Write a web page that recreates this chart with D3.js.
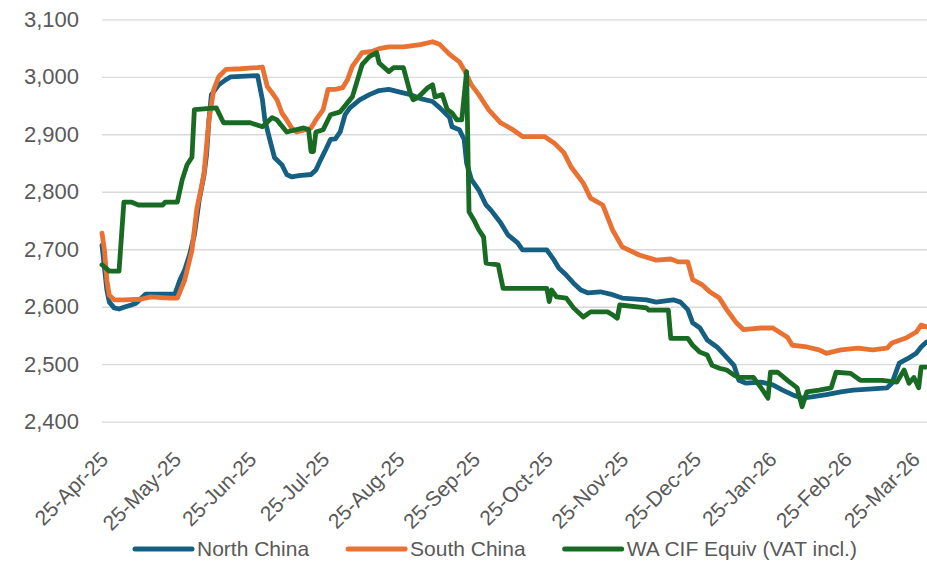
<!DOCTYPE html>
<html>
<head>
<meta charset="utf-8">
<script src="https://cdn.jsdelivr.net/npm/d3@7/dist/d3.min.js"></script>
<style>
  html, body { margin: 0; padding: 0; background: #ffffff; }
  svg { display: block; }
  text { font-family: "Liberation Sans", Arial, sans-serif; fill: #595959; }
</style>
</head>
<body>
<svg id="chart" width="927" height="563"></svg>
<script>
// ---- Data ----
const seriesNames = ["North China", "South China", "WA CIF Equiv (VAT incl.)"];
const seriesColors = ["#156082", "#E97132", "#196B24"];

const yTicks = [2400, 2500, 2600, 2700, 2800, 2900, 3000, 3100];
const xTickDates = ["2025-04-25","2025-05-25","2025-06-25","2025-07-25","2025-08-25","2025-09-25",
                    "2025-10-25","2025-11-25","2025-12-25","2026-01-25","2026-02-25","2026-03-25"];
const xDomain = ["2025-04-25", "2026-03-30"];

const northChina = [
  ["2025-04-25",2707],["2025-04-27",2629],["2025-04-28",2608],["2025-04-30",2598],["2025-05-02",2596],
  ["2025-05-04",2599],["2025-05-07",2603],["2025-05-09",2606],["2025-05-13",2622],["2025-05-25",2622],
  ["2025-05-27",2646],["2025-05-29",2664],["2025-05-31",2690],["2025-06-02",2725],["2025-06-04",2786],
  ["2025-06-06",2830],["2025-06-07",2864],["2025-06-08",2925],["2025-06-09",2969],["2025-06-12",2986],
  ["2025-06-15",2995],["2025-06-17",3000],["2025-06-28",3002],["2025-06-30",2960],["2025-07-01",2925],
  ["2025-07-03",2891],["2025-07-05",2859],["2025-07-08",2847],["2025-07-10",2830],["2025-07-12",2826],
  ["2025-07-15",2828],["2025-07-20",2830],["2025-07-22",2838],["2025-07-24",2856],["2025-07-26",2873],
  ["2025-07-28",2891],["2025-07-30",2892],["2025-08-01",2904],["2025-08-03",2934],["2025-08-05",2946],
  ["2025-08-09",2960],["2025-08-13",2969],["2025-08-17",2976],["2025-08-21",2978],["2025-08-26",2973],
  ["2025-08-30",2969],["2025-09-03",2962],["2025-09-08",2957],["2025-09-11",2946],["2025-09-15",2929],
  ["2025-09-16",2913],["2025-09-19",2908],["2025-09-21",2891],["2025-09-22",2850],["2025-09-24",2821],
  ["2025-09-27",2803],["2025-09-30",2777],["2025-10-02",2768],["2025-10-06",2746],["2025-10-09",2725],
  ["2025-10-13",2711],["2025-10-15",2699],["2025-10-25",2699],["2025-10-28",2681],["2025-10-30",2667],
  ["2025-11-02",2655],["2025-11-05",2641],["2025-11-08",2629],["2025-11-11",2624],["2025-11-16",2626],
  ["2025-11-21",2621],["2025-11-25",2615],["2025-12-05",2612],["2025-12-09",2608],["2025-12-16",2612],
  ["2025-12-19",2608],["2025-12-22",2595],["2025-12-24",2572],["2025-12-27",2563],["2025-12-30",2542],
  ["2026-01-03",2530],["2026-01-07",2512],["2026-01-10",2498],["2026-01-12",2472],["2026-01-15",2467],
  ["2026-01-21",2469],["2026-01-26",2464],["2026-01-30",2455],["2026-02-03",2447],["2026-02-07",2441],
  ["2026-02-11",2443],["2026-02-17",2447],["2026-02-23",2452],["2026-02-28",2455],["2026-03-08",2457],
  ["2026-03-14",2459],["2026-03-16",2467],["2026-03-19",2502],["2026-03-23",2511],["2026-03-26",2519],
  ["2026-03-28",2530],["2026-03-30",2538]
];

const southChina = [
  ["2025-04-25",2728],["2025-04-26",2699],["2025-04-27",2646],["2025-04-28",2620],["2025-04-30",2612],
  ["2025-05-04",2612],["2025-05-11",2613],["2025-05-15",2617],["2025-05-23",2615],["2025-05-26",2615],
  ["2025-05-29",2646],["2025-06-01",2698],["2025-06-03",2770],["2025-06-05",2810],["2025-06-06",2833],
  ["2025-06-08",2925],["2025-06-10",2978],["2025-06-12",3000],["2025-06-15",3013],["2025-06-21",3014],
  ["2025-06-28",3016],["2025-06-30",3017],["2025-07-02",2983],["2025-07-04",2972],["2025-07-06",2960],
  ["2025-07-08",2937],["2025-07-10",2925],["2025-07-12",2911],["2025-07-14",2904],["2025-07-18",2908],
  ["2025-07-20",2911],["2025-07-22",2925],["2025-07-25",2943],["2025-07-27",2978],["2025-07-30",2978],
  ["2025-08-02",2981],["2025-08-04",2995],["2025-08-06",3018],["2025-08-08",3030],["2025-08-10",3042],
  ["2025-08-14",3044],["2025-08-17",3049],["2025-08-21",3052],["2025-08-27",3052],["2025-09-03",3056],
  ["2025-09-08",3061],["2025-09-11",3056],["2025-09-15",3039],["2025-09-19",3026],["2025-09-21",3012],
  ["2025-09-24",2986],["2025-09-27",2969],["2025-10-01",2943],["2025-10-06",2920],["2025-10-11",2908],
  ["2025-10-15",2896],["2025-10-24",2896],["2025-10-28",2885],["2025-11-01",2868],["2025-11-04",2843],
  ["2025-11-09",2815],["2025-11-12",2789],["2025-11-17",2777],["2025-11-21",2734],["2025-11-25",2704],
  ["2025-12-02",2690],["2025-12-09",2681],["2025-12-15",2683],["2025-12-18",2678],["2025-12-22",2678],
  ["2025-12-24",2647],["2025-12-28",2638],["2025-12-31",2626],["2026-01-04",2615],["2026-01-07",2595],
  ["2026-01-11",2572],["2026-01-14",2560],["2026-01-21",2563],["2026-01-26",2563],["2026-02-01",2547],
  ["2026-02-03",2533],["2026-02-09",2530],["2026-02-14",2525],["2026-02-17",2519],["2026-02-23",2525],
  ["2026-03-02",2528],["2026-03-08",2525],["2026-03-14",2528],["2026-03-16",2537],["2026-03-22",2546],
  ["2026-03-26",2556],["2026-03-28",2568],["2026-03-30",2565]
];

const waCifEquiv = [
  ["2025-04-25",2673],["2025-04-28",2662],["2025-05-02",2662],["2025-05-04",2782],["2025-05-07",2782],
  ["2025-05-10",2777],["2025-05-20",2777],["2025-05-21",2782],["2025-05-26",2782],["2025-05-28",2821],
  ["2025-05-30",2847],["2025-06-01",2860],["2025-06-02",2943],["2025-06-11",2946],["2025-06-14",2920],
  ["2025-06-25",2920],["2025-06-30",2913],["2025-07-04",2929],["2025-07-06",2925],["2025-07-10",2904],
  ["2025-07-17",2911],["2025-07-19",2908],["2025-07-20",2870],["2025-07-21",2870],["2025-07-22",2904],
  ["2025-07-25",2908],["2025-07-28",2934],["2025-08-01",2939],["2025-08-04",2955],["2025-08-06",2965],
  ["2025-08-10",3021],["2025-08-13",3035],["2025-08-16",3042],["2025-08-17",3024],["2025-08-21",3009],
  ["2025-08-23",3016],["2025-08-27",3016],["2025-08-30",2969],["2025-08-31",2960],["2025-09-02",2964],
  ["2025-09-06",2981],["2025-09-08",2986],["2025-09-09",2965],["2025-09-12",2969],["2025-09-14",2943],
  ["2025-09-16",2937],["2025-09-18",2925],["2025-09-20",2925],["2025-09-22",3009],["2025-09-23",2765],
  ["2025-09-25",2751],["2025-09-27",2734],["2025-09-29",2721],["2025-09-30",2676],["2025-10-05",2673],
  ["2025-10-07",2632],["2025-10-25",2632],["2025-10-26",2609],["2025-10-27",2629],["2025-10-29",2617],
  ["2025-11-02",2615],["2025-11-05",2598],["2025-11-09",2582],["2025-11-12",2591],["2025-11-19",2591],
  ["2025-11-21",2586],["2025-11-23",2580],["2025-11-24",2603],["2025-12-05",2598],["2025-12-06",2594],
  ["2025-12-14",2594],["2025-12-15",2545],["2025-12-22",2545],["2025-12-24",2533],["2025-12-27",2521],
  ["2025-12-30",2516],["2026-01-01",2498],["2026-01-04",2493],["2026-01-07",2490],["2026-01-10",2481],
  ["2026-01-12",2477],["2026-01-18",2477],["2026-01-21",2460],["2026-01-24",2441],["2026-01-25",2486],
  ["2026-01-28",2486],["2026-02-01",2472],["2026-02-05",2459],["2026-02-07",2426],["2026-02-09",2452],
  ["2026-02-14",2455],["2026-02-19",2459],["2026-02-21",2486],["2026-02-27",2484],["2026-03-03",2472],
  ["2026-03-12",2472],["2026-03-18",2469],["2026-03-21",2490],["2026-03-23",2467],["2026-03-25",2477],
  ["2026-03-27",2459],["2026-03-28",2495],["2026-03-30",2495]
];

// ---- Chart ----
const parse = d3.timeParse("%Y-%m-%d");
const fmtTick = d3.timeFormat("%d-%b-%y");
const svg = d3.select("#chart");

const plot = { left: 102, right: 926, top: 19.3, bottom: 421.7 };

const x = d3.scaleTime().domain(xDomain.map(parse)).range([plot.left, plot.right]);
const y = d3.scaleLinear().domain([2400, 3100]).range([plot.bottom, plot.top]);

// gridlines + y labels
const yAxis = d3.axisLeft(y).tickValues(yTicks).tickSize(-(927 - plot.left)).tickPadding(23)
  .tickFormat(d3.format(","));
const gy = svg.append("g").attr("transform", `translate(${plot.left},0)`).call(yAxis);
gy.select(".domain").remove();
gy.selectAll(".tick line").attr("stroke", "#d9d9d9").attr("stroke-width", 1.3);
gy.selectAll(".tick text").attr("font-size", 22).attr("fill", "#595959")
  .attr("font-family", "Liberation Sans, Arial, sans-serif");

// x axis labels
const xAxis = d3.axisBottom(x).tickValues(xTickDates.map(parse)).tickSize(0).tickFormat(fmtTick);
const gx = svg.append("g").attr("transform", `translate(0,${plot.bottom})`).call(xAxis);
gx.select(".domain").remove();
gx.selectAll(".tick text")
  .attr("font-size", 21).attr("fill", "#595959")
  .attr("font-family", "Liberation Sans, Arial, sans-serif")
  .attr("text-anchor", "end")
  .attr("transform", "translate(7,39) rotate(-45)")
  .attr("dy", 0).attr("y", 0);

// lines
const line = d3.line().x(d => x(parse(d[0]))).y(d => y(d[1])).curve(d3.curveLinear);
const allSeries = [northChina, southChina, waCifEquiv];
allSeries.forEach((s, i) => {
  svg.append("path").datum(s)
    .attr("d", line)
    .attr("fill", "none")
    .attr("stroke", seriesColors[i])
    .attr("stroke-width", 4.8)
    .attr("stroke-linejoin", "round")
    .attr("stroke-linecap", "round");
});

// legend
const legend = svg.append("g").attr("transform", "translate(135,549)");
let lx = 0;
seriesNames.forEach((name, i) => {
  const g = legend.append("g").attr("transform", `translate(${lx},0)`);
  g.append("line").attr("x1", 0).attr("x2", 57).attr("y1", 0).attr("y2", 0)
    .attr("stroke", seriesColors[i]).attr("stroke-width", 5).attr("stroke-linecap", "round");
  const t = g.append("text").attr("x", 62).attr("y", 0).attr("dy", "0.35em")
    .attr("font-size", 21).attr("fill", "#595959").text(name);
  lx += 62 + t.node().getComputedTextLength() + 39;
});
</script>
</body>
</html>
